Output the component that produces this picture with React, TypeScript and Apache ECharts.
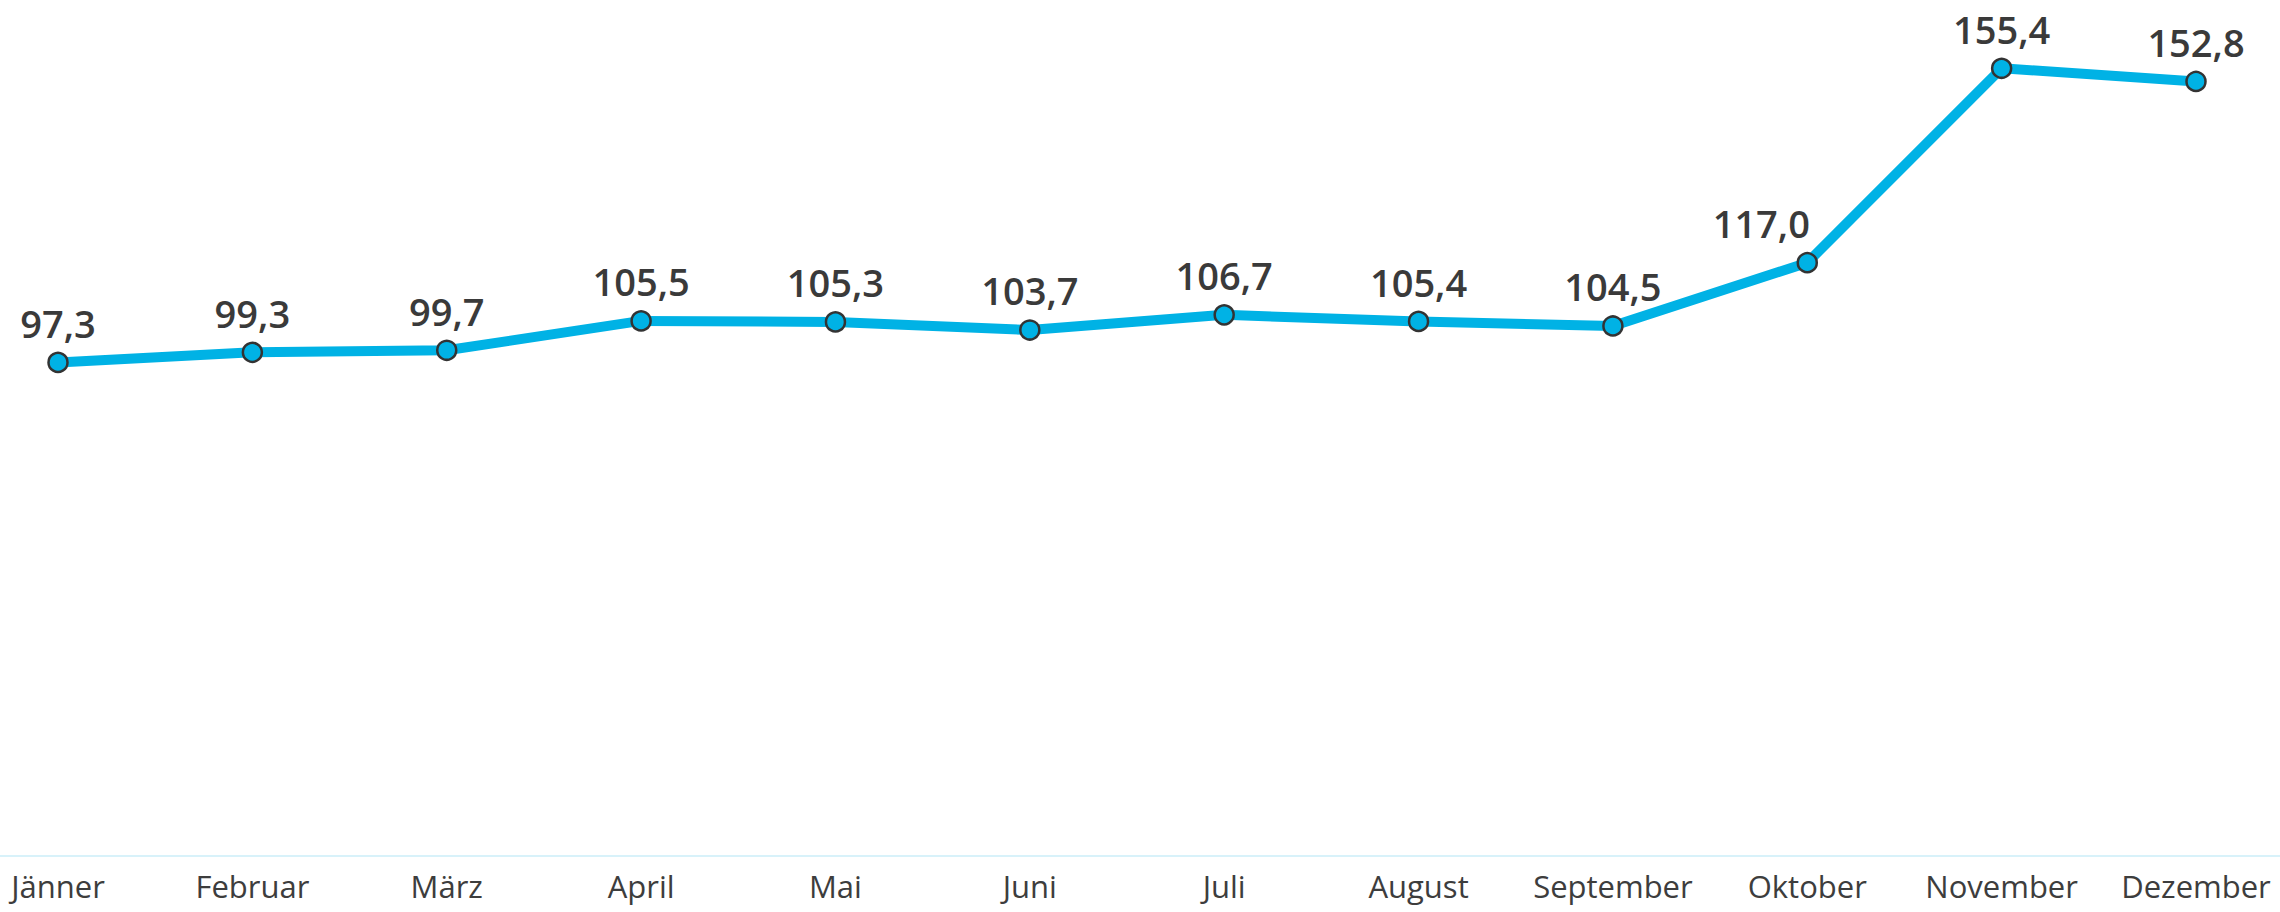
import React, { useEffect, useRef } from "react";
import * as echarts from "echarts";

const months = ["Jänner", "Februar", "März", "April", "Mai", "Juni", "Juli", "August", "September", "Oktober", "November", "Dezember"];
const values = [97.3, 99.3, 99.7, 105.5, 105.3, 103.7, 106.7, 105.4, 104.5, 117.0, 155.4, 152.8];
// horizontal label nudges (px) per point, to keep labels off the line
const labelShiftX = [0, 0, 0, 0, 0, 0, 0, 0, 0, -46, 0, 0];

export default function App() {
  const ref = useRef<HTMLDivElement>(null);
  useEffect(() => {
    document.body.style.margin = "0";
    document.body.style.overflow = "hidden";
    const chart = echarts.init(ref.current!, null, { renderer: "svg" });
    chart.setOption({
      animation: false,
      grid: { left: 58, right: 84, top: 45, bottom: 57 },
      graphic: [
        {
          type: "line",
          shape: { x1: 0, y1: 856, x2: 2280, y2: 856 },
          style: { stroke: "#d8f2fa", lineWidth: 2 },
          silent: true,
        },
      ],
      xAxis: {
        type: "category",
        data: months,
        boundaryGap: false,
        axisLine: { show: false },
        axisTick: { show: false },
        axisLabel: {
          fontFamily: "Open Sans",
          fontSize: 31,
          color: "#3d3d3d",
          margin: 15,
          interval: 0,
        },
        splitLine: { show: false },
      },
      yAxis: {
        type: "value",
        min: 0,
        max: 160,
        show: false,
        splitLine: { show: false },
      },
      series: [
        {
          type: "line",
          data: values.map((v, i) => ({
            value: v,
            label: { offset: [labelShiftX[i], 0] },
          })),
          symbol: "circle",
          symbolSize: 19,
          lineStyle: { color: "#00b2e5", width: 10 },
          itemStyle: { color: "#00b2e5", borderColor: "#333", borderWidth: 2.5 },
          label: {
            show: true,
            position: "top",
            distance: 10,
            fontFamily: "Open Sans",
            fontWeight: 600,
            fontSize: 38,
            color: "#3a3a3a",
            formatter: (p: any) => Number(p.value).toFixed(1).replace(".", ","),
          },
        },
      ],
    });
    return () => chart.dispose();
  }, []);
  return <div ref={ref} style={{ width: 2280, height: 912 }} />;
}
